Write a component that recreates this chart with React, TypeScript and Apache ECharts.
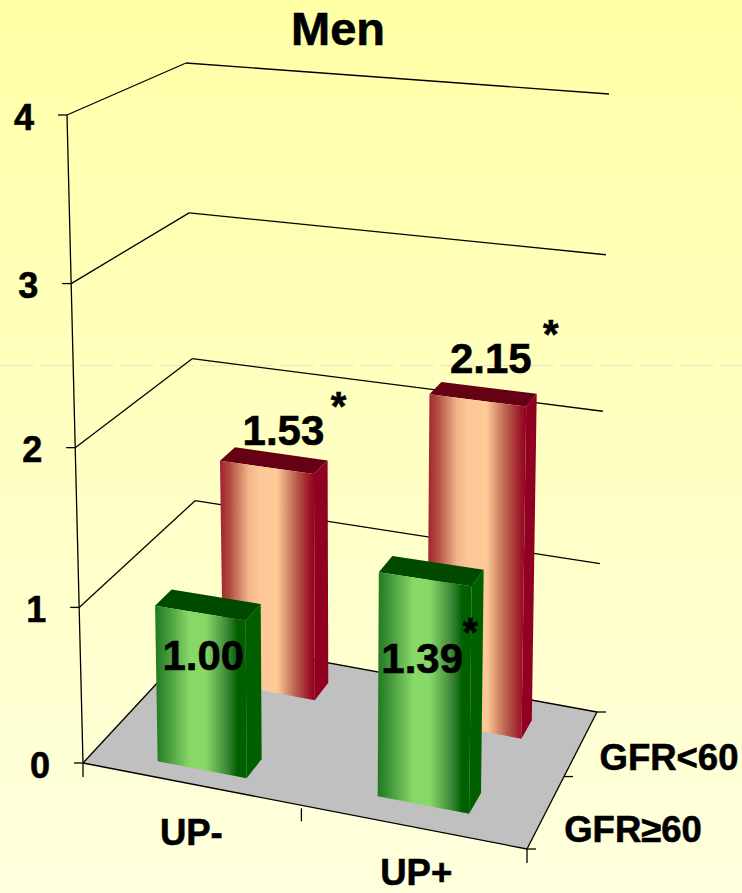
import React, { useEffect, useRef } from "react";
import * as echarts from "echarts";

// Chart content
const chartTitle = "Men";
const categories = ["UP-", "UP+"];
const depthLabels = ["GFR≥60", "GFR<60"];
const yTicks = [0, 1, 2, 3, 4];
const gfrHighValues = [1.0, 1.39];
const gfrLowValues = [1.53, 2.15];
const gfrHighStarred = [false, true];
const gfrLowStarred = [true, true];

// Perspective box: floor and ceiling corners, ordered front-left, front-right, back-right, back-left
const WIDTH = 742;
const HEIGHT = 893;
const FLOOR: number[][] = [[83, 763], [527, 849], [597, 712], [198, 639]];
const CEILING: number[][] = [[67, 115], [537, 150], [609, 94], [186, 63]];
const VERTICAL_PERSPECTIVE = -0.052;
const GRID = { left: 100, top: 100, width: 500, height: 600 };

// Bar footprints in floor units, indexed by depth row and then category
const BAR_HALF_WIDTHS = [0.103, 0.113];
const BAR_U_SHIFTS = [[-0.002, -0.007], [0.004, 0.003]];
const BAR_DEPTH_SPANS = [
  [[0.1, 0.24], [0.145, 0.29]],
  [[0.705, 0.85], [0.705, 0.85]],
];

const FONT = '"Liberation Sans", Arial, sans-serif';
const TEXT_WEIGHT_STROKE = 0.6;
const BAR_STYLES = [
  {
    top: "#004a00",
    side: "#006000",
    front: [
      [0, "#1e7a1e"], [0.1, "#3a8f35"], [0.38, "#88d868"], [0.55, "#88d868"],
      [0.78, "#3f8a3a"], [0.9, "#006000"], [1, "#006000"],
    ],
  },
  {
    top: "#660014",
    side: "#900020",
    front: [
      [0, "#a02030"], [0.1, "#b04a40"], [0.3, "#f0b488"], [0.42, "#fec996"], [0.6, "#fec996"],
      [0.8, "#b8604c"], [0.93, "#a01c2c"], [1, "#900020"],
    ],
  },
];
const LABEL_OFFSETS = [
  [[3, 42], [-3, 79]],
  [[16.5, -37], [13, -42]],
];
const STAR_OFFSETS = [
  [[0, 0], [48, -26]],
  [[55, -24], [60, -24]],
];
const CATEGORY_LABEL_OFFSETS = [[0, 49], [3, 46]];
const DEPTH_LABEL_OFFSETS = [[87, 18], [88, 14]];

// Builds the projective map taking the unit square onto a quadrilateral
function squareToQuad(q: number[][]) {
  const [[x0, y0], [x1, y1], [x2, y2], [x3, y3]] = q;
  const dx1 = x1 - x2, dx2 = x3 - x2, sx = x0 - x1 + x2 - x3;
  const dy1 = y1 - y2, dy2 = y3 - y2, sy = y0 - y1 + y2 - y3;
  const det = dx1 * dy2 - dx2 * dy1;
  const g = (sx * dy2 - dx2 * sy) / det;
  const h = (dx1 * sy - sx * dy1) / det;
  const a = x1 - x0 + g * x1, b = x3 - x0 + h * x3;
  const d = y1 - y0 + g * y1, e = y3 - y0 + h * y3;
  return (u: number, w: number) => {
    const k = 1 + g * u + h * w;
    return [(a * u + b * w + x0) / k, (d * u + e * w + y0) / k];
  };
}
const floorAt = squareToQuad(FLOOR);
const ceilingAt = squareToQuad(CEILING);

// Projects floor position (u, w) at height fraction t of the value axis
function project(u: number, w: number, t: number) {
  const f = floorAt(u, w);
  const c = ceilingAt(u, w);
  const i = VERTICAL_PERSPECTIVE;
  const s = (t * (1 + i)) / (1 + i * t);
  return [f[0] + (c[0] - f[0]) * s, f[1] + (c[1] - f[1]) * s];
}

// Reads the axis position of a datum as floor-relative u and height fraction t
function axisFractions(api: any, category: number, value: number) {
  const p = api.coord([category, value]);
  return {
    u: (p[0] - GRID.left) / GRID.width,
    t: (GRID.top + GRID.height - p[1]) / GRID.height,
  };
}

const segment = (a: number[], b: number[], lineWidth = 1.3) => ({
  type: "line",
  shape: { x1: a[0], y1: a[1], x2: b[0], y2: b[1] },
  style: { stroke: "#000", lineWidth },
});
const label = (text: string, x: number, y: number, fontSize: number) => ({
  type: "text",
  style: {
    text, x, y, fill: "#000", stroke: "#000", lineWidth: TEXT_WEIGHT_STROKE,
    align: "center", verticalAlign: "middle",
    font: `bold ${fontSize}px ${FONT}`,
  },
});

// Floor, back walls, value ticks and their labels
function renderFrame(_: any, api: any) {
  const value = api.value(1);
  const { t } = axisFractions(api, 0, value);
  const frontLeft = project(0, 0, t);
  const backLeft = project(0, 1, t);
  const backRight = project(1, 1, t);
  const children: any[] = [];
  if (value === 0) {
    const corners = [frontLeft, project(1, 0, 0), backRight, backLeft];
    children.push({ type: "polygon", shape: { points: corners }, style: { fill: "#c0c0c0" } });
    children.push(segment(corners[0], corners[1]), segment(corners[1], corners[2]));
    children.push(segment(corners[2], corners[3]), segment(corners[3], corners[0]));
    // Depth ticks along the right floor edge with the series names beside them
    [0, 0.5, 1].forEach((w) => {
      const p = project(1, w, 0);
      children.push(segment(p, [p[0] + 9, p[1]]));
    });
    depthLabels.forEach((name, i) => {
      const p = project(1, (i + 0.5) / depthLabels.length, 0);
      children.push(label(name, p[0] + DEPTH_LABEL_OFFSETS[i][0], p[1] + DEPTH_LABEL_OFFSETS[i][1], 36.5));
    });
  } else {
    children.push(segment(frontLeft, backLeft), segment(backLeft, backRight));
    children.push(segment(frontLeft, project(0, 0, axisFractions(api, 0, value - 1).t)));
  }
  children.push(segment(frontLeft, [frontLeft[0] - 9, frontLeft[1]]));
  children.push(label(String(value), frontLeft[0] - 43, frontLeft[1] + 2, 36));
  return { type: "group", children };
}

// Category ticks and names along the front floor edge
function renderCategory(_: any, api: any) {
  const index = api.value(0);
  const { u } = axisFractions(api, index, 0);
  const p = project(u, 0, 0);
  const [ox, oy] = CATEGORY_LABEL_OFFSETS[index];
  const children: any[] = [label(categories[index], p[0] + ox, p[1] + oy, 36.5)];
  if (index === 0) {
    const left = project(0, 0, 0);
    children.push(segment(left, [left[0], left[1] + 14]));
  }
  const step = 0.5;
  const q = project(u + step / 2, 0, 0);
  children.push(segment(index === 0 ? [q[0], q[1] + 3] : q, [q[0], q[1] + (index === 0 ? 16 : 14)]));
  return { type: "group", children };
}

// One perspective bar: top, side and front faces plus its value label
function renderBar(depth: number, starred: boolean[]) {
  return (_: any, api: any) => {
    const index = api.value(0);
    const value = api.value(1);
    const { u, t } = axisFractions(api, index, value);
    const center = u + BAR_U_SHIFTS[depth][index];
    const u0 = center - BAR_HALF_WIDTHS[depth];
    const u1 = center + BAR_HALF_WIDTHS[depth];
    const [w0, w1] = BAR_DEPTH_SPANS[depth][index];
    const style = BAR_STYLES[depth];
    const fl = project(u0, w0, t);
    const fr = project(u1, w0, t);
    const br = project(u1, w1, t);
    const bl = project(u0, w1, t);
    const fl0 = project(u0, w0, 0);
    const fr0 = project(u1, w0, 0);
    const br0 = project(u1, w1, 0);
    const front = new echarts.graphic.LinearGradient(
      0, 0, 1, 0,
      style.front.map(([offset, color]) => ({ offset: offset as number, color: color as string })),
    );
    const [dx, dy] = LABEL_OFFSETS[depth][index];
    const cx = (fl[0] + fr[0]) / 2 + dx;
    const cy = (fl[1] + fr[1]) / 2 + dy;
    const children: any[] = [
      { type: "polygon", shape: { points: [fr, br, br0, fr0] }, style: { fill: style.side } },
      { type: "polygon", shape: { points: [fl, bl, br, fr] }, style: { fill: style.top } },
      { type: "polygon", shape: { points: [fl, fr, fr0, fl0] }, style: { fill: front } },
      label(value.toFixed(2), cx, cy, 42),
    ];
    if (starred[index]) {
      const [sx, sy] = STAR_OFFSETS[depth][index];
      children.push(label("*", cx + sx, cy + sy, 40));
    }
    return { type: "group", children };
  };
}

const barData = (values: number[]) => values.map((v, i) => [i, v]);

export default function App() {
  const ref = useRef<HTMLDivElement>(null);

  useEffect(() => {
    const chart = echarts.init(ref.current!, undefined, { renderer: "svg", width: WIDTH, height: HEIGHT });
    const seriesBase = { type: "custom", coordinateSystem: "cartesian2d", encode: { x: 0, y: 1 }, clip: false, silent: true };
    chart.setOption({
      animation: false,
      backgroundColor: new echarts.graphic.LinearGradient(0, 0, 0, 1, [
        { offset: 0, color: "#ffffa6" },
        { offset: 1, color: "#ffffde" },
      ]),
      title: {
        text: chartTitle,
        left: 333,
        top: 0,
        textAlign: "center",
        textStyle: {
          color: "#000", fontSize: 47, fontWeight: "bold", fontFamily: FONT,
          textBorderColor: "#000", textBorderWidth: TEXT_WEIGHT_STROKE,
        },
      },
      grid: { ...GRID },
      xAxis: { type: "category", data: categories, show: false },
      yAxis: { type: "value", min: 0, max: 4, interval: 1, show: false },
      graphic: [
        {
          type: "line",
          shape: { x1: 0, y1: 365.5, x2: WIDTH, y2: 365.5 },
          style: { stroke: "#e6e6c4", lineWidth: 1, lineDash: [34, 6] },
          silent: true,
          z: 0,
        },
      ],
      series: [
        { ...seriesBase, name: "frame", data: yTicks.map((v) => [0, v]), renderItem: renderFrame, z: 2 },
        { ...seriesBase, name: "categories", data: categories.map((_, i) => [i, 0]), renderItem: renderCategory, z: 2 },
        { ...seriesBase, name: depthLabels[1], data: barData(gfrLowValues), renderItem: renderBar(1, gfrLowStarred), z: 3 },
        { ...seriesBase, name: depthLabels[0], data: barData(gfrHighValues), renderItem: renderBar(0, gfrHighStarred), z: 4 },
      ],
    });
    return () => chart.dispose();
  }, []);

  return <div ref={ref} style={{ position: "absolute", left: 0, top: 0, width: WIDTH, height: HEIGHT }} />;
}
